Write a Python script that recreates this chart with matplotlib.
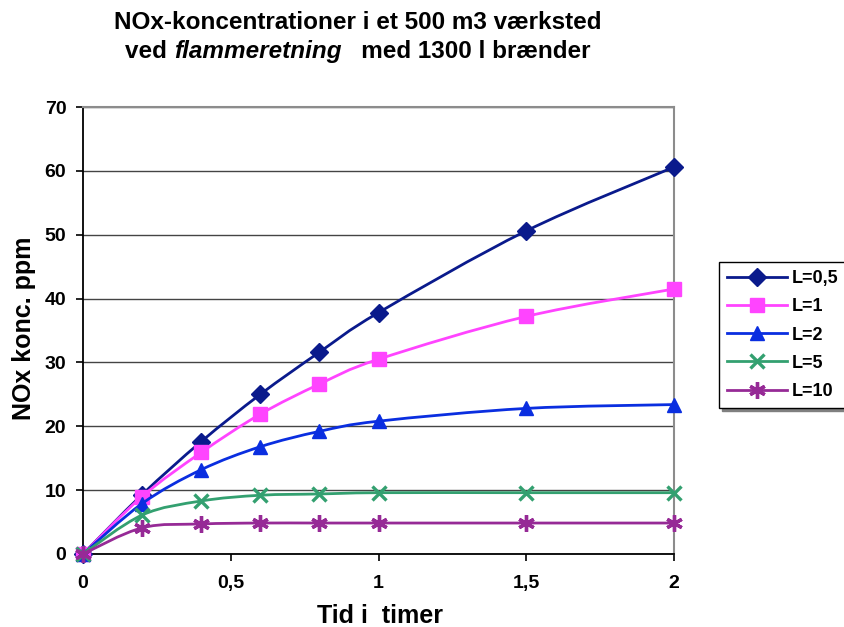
import matplotlib
matplotlib.use("Agg")
import matplotlib.pyplot as plt
import numpy as np
from matplotlib.path import Path
from matplotlib.patches import PathPatch
from matplotlib.lines import Line2D

plt.rcParams['font.family'] = ['Liberation Sans', 'DejaVu Sans']

# ---- data ----
tid = [0, 0.2, 0.4, 0.6, 0.8, 1.0, 1.5, 2.0]
labels = ["L=0,5", "L=1", "L=2", "L=5", "L=10"]
l_05 = [0, 9.3, 17.6, 25.0, 31.6, 37.8, 50.6, 60.6]
l_1 = [0, 9.0, 15.9, 21.9, 26.6, 30.5, 37.2, 41.5]
l_2 = [0, 7.9, 13.2, 16.8, 19.2, 20.8, 22.8, 23.4]
l_5 = [0, 6.1, 8.3, 9.2, 9.4, 9.6, 9.6, 9.6]
l_10 = [0, 4.1, 4.7, 4.85, 4.85, 4.85, 4.85, 4.85]
series = [l_05, l_1, l_2, l_5, l_10]
xticks = [0, 0.5, 1, 1.5, 2]
xticklabels = ["0", "0,5", "1", "1,5", "2"]
yticks = [0, 10, 20, 30, 40, 50, 60, 70]

styles = [
    dict(color='#0a1a8c', marker='D', ms=9.5, mew=1),
    dict(color='#ff44ff', marker='s', ms=9.5, mew=1),
    dict(color='#0a2ee0', marker='^', ms=10.5, mew=1),
    dict(color='#33a070', marker='x', ms=10, mew=2.4),
    dict(color='#962a96', marker=(6, 2, 0), ms=12, mew=2.4),
]

W, H = 844, 627
fig = plt.figure(figsize=(W / 100, H / 100), dpi=100)
ax = fig.add_axes([83 / W, 1 - 554 / H, (674 - 83) / W, (554 - 107) / H])


def smooth_path(xs, ys):
    # Excel-like smoothed line: cubic Bezier with Catmull-Rom control points
    P = np.column_stack([xs, ys]).astype(float)
    n = len(P)
    verts = [P[0]]
    codes = [Path.MOVETO]
    for i in range(n - 1):
        p0 = P[i - 1] if i > 0 else P[i]
        p1 = P[i]
        p2 = P[i + 1]
        p3 = P[i + 2] if i + 2 < n else P[i + 1]
        c1 = p1 + (p2 - p0) / 6.0
        c2 = p2 - (p3 - p1) / 6.0
        verts += [c1, c2, p2]
        codes += [Path.CURVE4] * 3
    return Path(np.array(verts), codes)


handles = []
for i, (ys, st, lab) in enumerate(zip(series, styles, labels)):
    patch = PathPatch(smooth_path(tid, ys), fill=False, edgecolor=st['color'],
                      lw=2.0, zorder=3 + i, capstyle='round', joinstyle='round')
    ax.add_patch(patch)
    ax.plot(tid, ys, linestyle='none', marker=st['marker'], ms=st['ms'],
            mew=st['mew'], color=st['color'], mec=st['color'], zorder=3.5 + i,
            clip_on=False)
    handles.append(Line2D([], [], color=st['color'], lw=2.0, marker=st['marker'],
                          ms=st['ms'], mew=st['mew'], mec=st['color']))

ax.set_xlim(0, 2)
ax.set_ylim(0, 70)
ax.set_xticks(xticks)
ax.set_xticklabels(xticklabels)
ax.set_yticks(yticks)
for lab in ax.get_xticklabels() + ax.get_yticklabels():
    lab.set_fontweight('bold')
ax.tick_params(axis='both', direction='out', length=5, width=1.2, labelsize=14,
               colors='black')
ax.tick_params(axis='x', pad=10)
ax.tick_params(axis='y', pad=7)
ax.yaxis.grid(True, color='#444444', lw=1.0)
ax.set_axisbelow(True)
for s in ['left', 'bottom']:
    ax.spines[s].set_color('black')
    ax.spines[s].set_linewidth(1.3)
for s in ['right', 'top']:
    ax.spines[s].set_color('#8c8c8c')
    ax.spines[s].set_linewidth(1.5)

# axis labels
fig.text(24 / W, 1 - 328 / H, "NOx konc. ppm", rotation=90, ha='center', va='center',
         fontsize=18, fontweight='bold')
fig.text(380 / W, 1 - 616 / H, "Tid i  timer", ha='center', va='center',
         fontsize=18, fontweight='bold')

# title
tcx = 358 / W
fig.text(tcx, 1 - 29 / H, "NOx-koncentrationer i et 500 m3 værksted", ha='center',
         va='baseline', fontsize=17.5, fontweight='bold')
parts = [("ved ", 'normal'), ("flammeretning", 'italic'), ("   med 1300 l brænder", 'normal')]
texts = []
for s, style in parts:
    texts.append(fig.text(0, 1 - 58 / H, s, ha='left', va='baseline', fontsize=17.5,
                          fontweight='bold', fontstyle=style))
fig.canvas.draw()
r = fig.canvas.get_renderer()
widths = [t.get_window_extent(r).width for t in texts]
total = sum(widths)
x0 = tcx * W - total / 2
for t, w in zip(texts, widths):
    t.set_x(x0 / W)
    x0 += w

leg = fig.legend(handles, labels, loc='upper left', bbox_to_anchor=(719 / W, 1 - 262 / H),
                 bbox_transform=fig.transFigure, borderaxespad=0, frameon=True,
                 fancybox=False, shadow={'color': '#808080', 'alpha': 1.0},
                 edgecolor='black', handlelength=3.3, handletextpad=0.3,
                 labelspacing=0.62, borderpad=0.45,
                 prop={'weight': 'bold', 'size': 13})
leg.get_frame().set_linewidth(1.0)

fig.savefig("out.png", dpi=100)
